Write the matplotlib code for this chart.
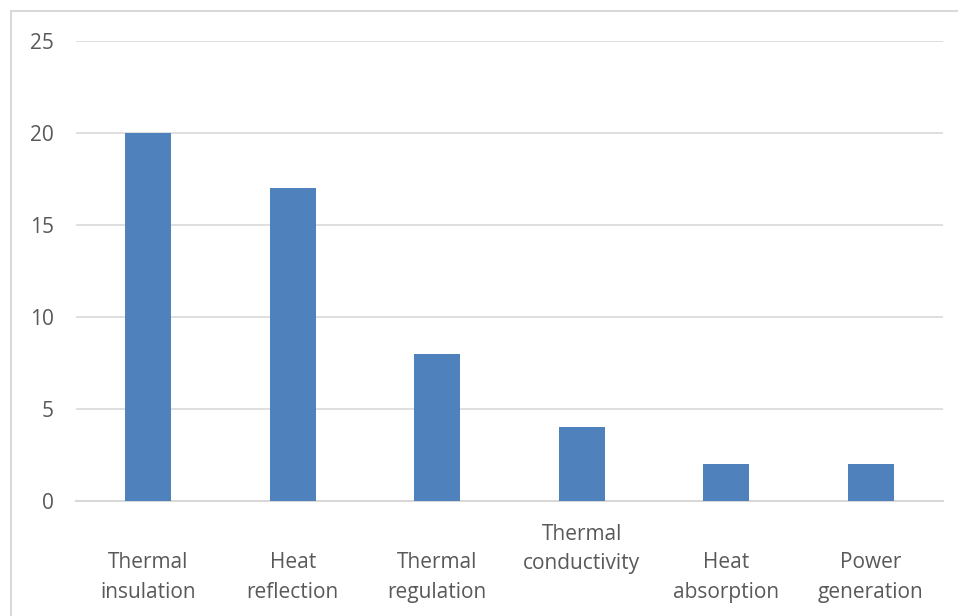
import matplotlib.pyplot as plt
from matplotlib.lines import Line2D
import numpy as np

categories = ["Thermal\ninsulation", "Heat\nreflection", "Thermal\nregulation",
              "Thermal\nconductivity", "Heat\nabsorption", "Power\ngeneration"]
counts = [20, 17, 8, 4, 2, 2]
# vertical offset of each label (points below the axis)
label_offsets = [55, 55, 55, 34.5, 55, 55]
yticks = [0, 5, 10, 15, 20, 25]

plt.rcParams['font.family'] = ['Open Sans', 'DejaVu Sans']
text_color = "#595959"
grid_color = "#d9d9d9"
fsize = 15

fig = plt.figure(figsize=(9.58, 6.16), dpi=100)
ax = fig.add_axes([76/958, 1-501/616, (943-76)/958, (501-41)/616])

x = np.arange(len(categories))
ax.bar(x, counts, width=0.32, color="#4f81bd", zorder=3)

ax.set_xlim(-0.5, len(categories) - 0.5)
ax.set_ylim(0, 25)
ax.set_yticks(yticks)
ax.set_yticklabels([str(t) for t in yticks], color=text_color, fontsize=fsize)
ax.tick_params(axis='y', length=0, pad=16)
ax.set_xticks([])
ax.grid(axis='y', color=grid_color, linewidth=1.2, zorder=0)

for s in ["top", "right", "left"]:
    ax.spines[s].set_visible(False)
ax.spines["bottom"].set_color(grid_color)
ax.spines["bottom"].set_linewidth(1.5)

for i, lab in enumerate(categories):
    ax.annotate(lab, xy=(i, 0), xycoords=('data', 'axes fraction'),
                xytext=(0, -label_offsets[i]), textcoords='offset points',
                ha='center', va='center', color=text_color, fontsize=fsize,
                linespacing=1.55)

# chart area border (top and left edges visible)
fig.add_artist(Line2D([11/958, 1], [1-11/616, 1-11/616], color=grid_color, lw=1.5))
fig.add_artist(Line2D([11/958, 11/958], [0, 1-11/616], color=grid_color, lw=1.5))

fig.savefig("out.png", dpi=100, facecolor="white")
